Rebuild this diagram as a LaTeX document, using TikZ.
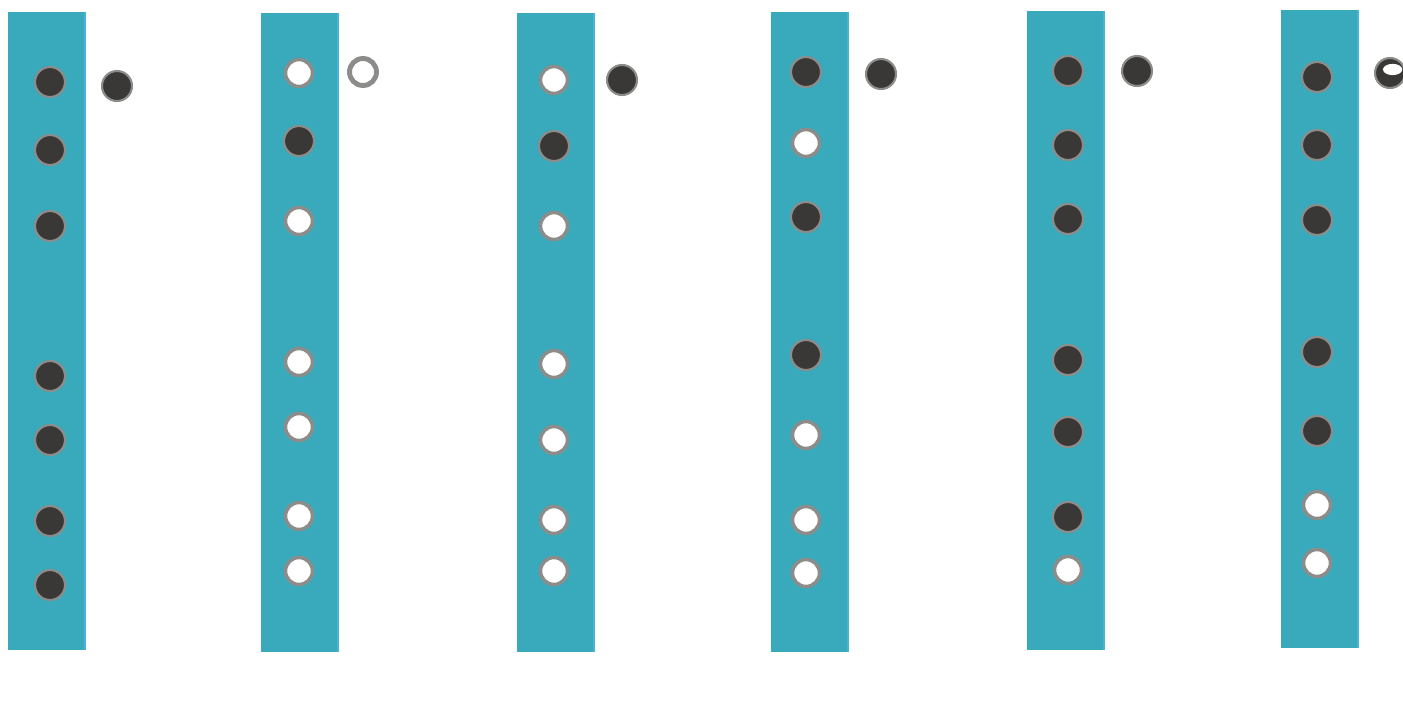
\documentclass[tikz,border=0pt]{standalone}
\usepackage{tikz}
\usetikzlibrary{positioning}
\definecolor{pipe}{RGB}{56,170,188}
\definecolor{pipeedge}{RGB}{70,180,215}
\definecolor{plug}{RGB}{58,56,54}
\definecolor{rim}{RGB}{140,140,138}
\tikzset{
  hole/.style={circle, inner sep=0pt, minimum size=0.6cm},
  shut/.style={hole, fill=plug, draw=rim, line width=1.2pt},
  open/.style={hole, fill=white, draw=rim, line width=2pt, minimum size=0.54cm},
  thumb/.style={hole, minimum size=0.64cm}
}

\begin{document}
\begin{tikzpicture}[x=0.02cm, y=-0.02cm]
\useasboundingbox (0,0) rectangle (1403,724);
% bars with the finger holes
\foreach \n/\bx/\hx/\top/\bot/\pat/\ys in {
  1/8/50/12/650/{1,1,1,1,1,1,1}/{82,150,226,376,440,521,585},
  2/261/299/13/652/{0,1,0,0,0,0,0}/{73,141,221,362,427,516,571},
  3/517/554/13/652/{0,1,0,0,0,0,0}/{80,146,226,364,440,520,571},
  4/771/806/12/652/{1,0,1,1,0,0,0}/{72,143,217,355,435,520,573},
  5/1027/1068/11/650/{1,1,1,1,1,1,0}/{71,145,219,360,432,517,570},
  6/1281/1317/10/648/{1,1,1,1,1,0,0}/{77,145,220,352,431,505,563}}{
  \fill[pipe] (\bx,\top) rectangle (\bx+77,\bot);
  \draw[pipeedge, line width=0.6pt] (\bx+77,\top) -- (\bx+77,\bot);
  \foreach \y [count=\k] in \ys{
    \pgfmathtruncatemacro{\st}{{\pat}[\k-1]}
    \ifnum\st=1
      \node[shut] (h\n-\k) at (\hx,\y) {};
    \else
      \node[open] (h\n-\k) at (\hx,\y) {};
    \fi
  }
}
% thumb holes
\node[thumb, shut] (t1) at (117,86) {};
\node[thumb, open, line width=2.8pt] (t2) at (363,72) {};
\node[thumb, shut] (t3) at (622,80) {};
\node[thumb, shut] (t4) at (881,74) {};
\node[thumb, shut] (t5) at (1137,71) {};
\node[thumb, shut] (t6) at (1390,73) {};
\fill[white] ([xshift=1.5pt, yshift=2pt]t6.center) ellipse (5.5pt and 3.2pt);
\end{tikzpicture}
\end{document}
